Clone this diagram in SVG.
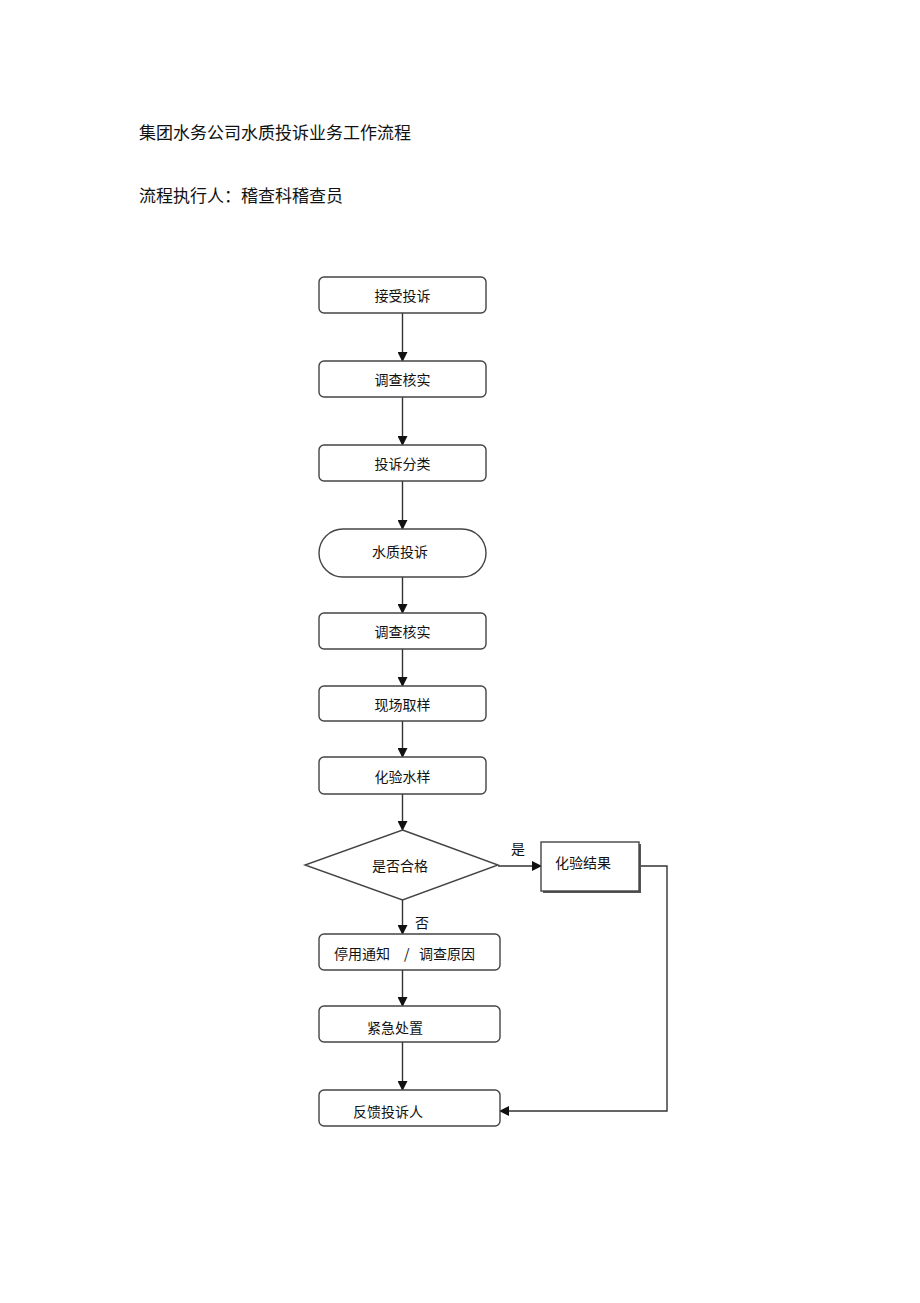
<svg xmlns="http://www.w3.org/2000/svg" width="920" height="1303" viewBox="0 0 920 1303">
<style>
.t{font-family:"Noto Sans CJK SC","Noto Sans",sans-serif;font-size:14px;fill:#111;dominant-baseline:central}
.h{font-family:"Noto Sans CJK SC","Noto Sans",sans-serif;font-size:17px;fill:#111;dominant-baseline:central}
.b{fill:#fff;stroke:#444;stroke-width:1.4}
.c{fill:none;stroke:#333;stroke-width:1.4}
</style>
<defs>
<marker id="ar" markerWidth="10" markerHeight="10" refX="9" refY="5" orient="auto" markerUnits="userSpaceOnUse">
<path d="M0,0 L10,5 L0,10 z" fill="#111"/>
</marker>
</defs>
<rect width="920" height="1303" fill="#fff"/>
<text class="h" x="139" y="131">集团水务公司水质投诉业务工作流程</text>
<text class="h" x="139" y="194">流程执行人：稽查科稽查员</text>
<g id="connectors">
<line class="c" x1="402.5" y1="313" x2="402.5" y2="361" marker-end="url(#ar)"/>
<line class="c" x1="402.5" y1="397" x2="402.5" y2="445" marker-end="url(#ar)"/>
<line class="c" x1="402.5" y1="481" x2="402.5" y2="529" marker-end="url(#ar)"/>
<line class="c" x1="402.5" y1="577" x2="402.5" y2="613" marker-end="url(#ar)"/>
<line class="c" x1="402.5" y1="649" x2="402.5" y2="686" marker-end="url(#ar)"/>
<line class="c" x1="402.5" y1="721" x2="402.5" y2="757" marker-end="url(#ar)"/>
<line class="c" x1="402.5" y1="794" x2="402.5" y2="830" marker-end="url(#ar)"/>
<line class="c" x1="498" y1="866" x2="541" y2="866" marker-end="url(#ar)"/>
<line class="c" x1="402.5" y1="900" x2="402.5" y2="934" marker-end="url(#ar)"/>
<line class="c" x1="402.5" y1="970" x2="402.5" y2="1006" marker-end="url(#ar)"/>
<line class="c" x1="402.5" y1="1042" x2="402.5" y2="1090" marker-end="url(#ar)"/>
<polyline class="c" points="639,866 667,866 667,1111 500,1111" marker-end="url(#ar)"/>
<text class="t" x="511" y="848">是</text>
<text class="t" x="415" y="922">否</text>
</g>
<g id="n1"><rect class="b" x="319" y="277" width="167" height="36" rx="5"/><text class="t" x="402.5" y="295" text-anchor="middle">接受投诉</text></g>
<g id="n2"><rect class="b" x="319" y="361" width="167" height="36" rx="5"/><text class="t" x="402.5" y="379" text-anchor="middle">调查核实</text></g>
<g id="n3"><rect class="b" x="319" y="445" width="167" height="36" rx="5"/><text class="t" x="402.5" y="463" text-anchor="middle">投诉分类</text></g>
<g id="n4"><rect class="b" x="319" y="529" width="167" height="48" rx="24"/><text class="t" x="400" y="551" text-anchor="middle">水质投诉</text></g>
<g id="n5"><rect class="b" x="319" y="613" width="167" height="36" rx="5"/><text class="t" x="402.5" y="631" text-anchor="middle">调查核实</text></g>
<g id="n6"><rect class="b" x="319" y="686" width="167" height="35" rx="5"/><text class="t" x="402.5" y="704" text-anchor="middle">现场取样</text></g>
<g id="n7"><rect class="b" x="319" y="757" width="167" height="37" rx="5"/><text class="t" x="402.5" y="776" text-anchor="middle">化验水样</text></g>
<g id="n8"><polygon class="b" points="402.5,830 498,865 402.5,900 305,865"/><text class="t" x="400" y="865" text-anchor="middle">是否合格</text></g>
<g id="n9"><rect x="543" y="844" width="98" height="49" fill="#555"/><rect class="b" x="541" y="842" width="98" height="49"/><text class="t" x="555" y="862">化验结果</text></g>
<g id="n10"><rect class="b" x="319" y="934" width="181" height="36" rx="5"/><text class="t" x="334" y="953">停用通知</text><text class="t" x="404" y="953">/</text><text class="t" x="419" y="953">调查原因</text></g>
<g id="n11"><rect class="b" x="319" y="1006" width="181" height="36" rx="5"/><text class="t" x="367" y="1027">紧急处置</text></g>
<g id="n12"><rect class="b" x="319" y="1090" width="181" height="36" rx="5"/><text class="t" x="353" y="1111">反馈投诉人</text></g>
</svg>
